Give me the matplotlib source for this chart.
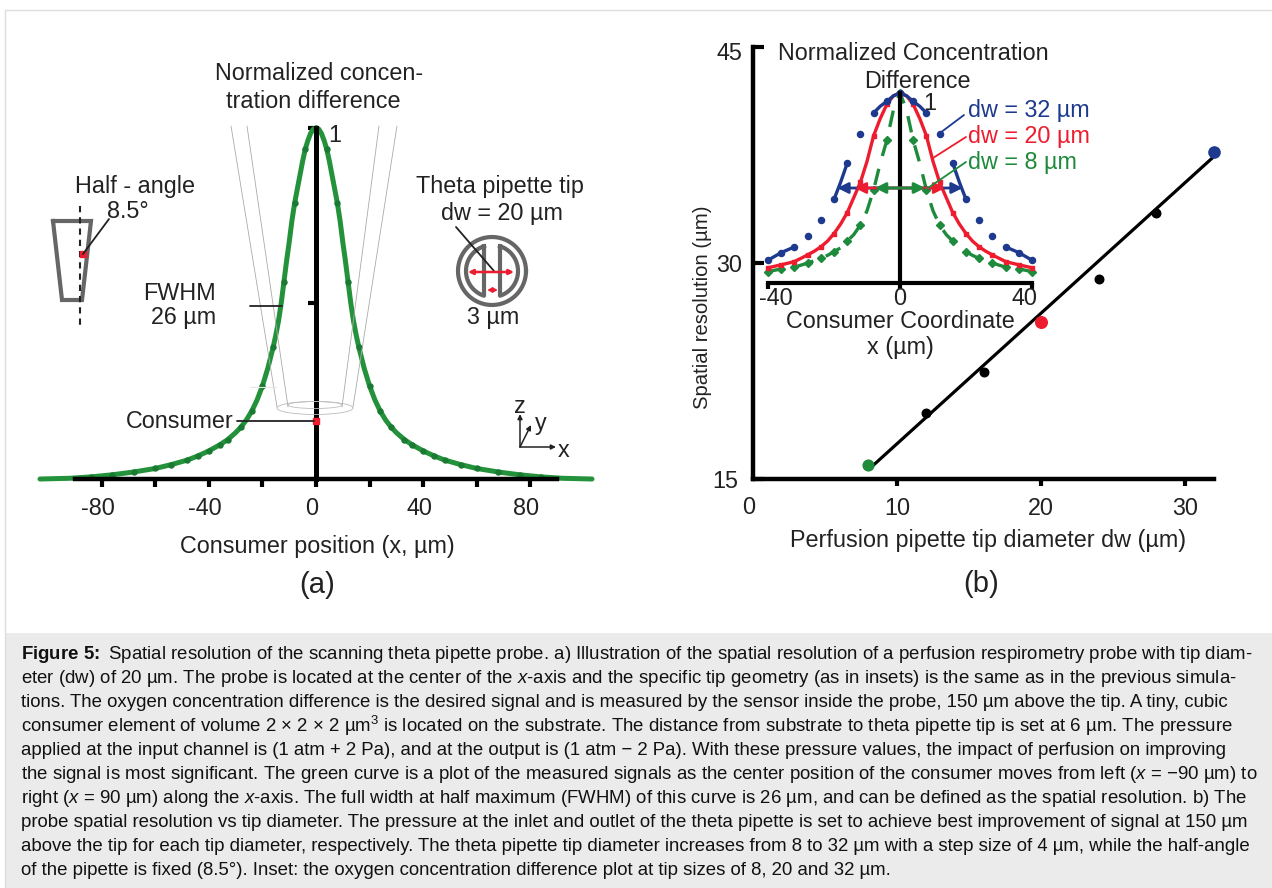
import numpy as np
import matplotlib
matplotlib.use("Agg")
import matplotlib.pyplot as plt
from matplotlib.patches import Ellipse, Rectangle
from matplotlib.transforms import ScaledTranslation

plt.rcParams["font.family"] = ["Liberation Sans", "DejaVu Sans"]
plt.rcParams["mathtext.fontset"] = "custom"
plt.rcParams["mathtext.rm"] = "Liberation Sans"
plt.rcParams["mathtext.it"] = "Liberation Sans:italic"
plt.rcParams["mathtext.bf"] = "Liberation Sans:bold"

W, H = 1272, 888

# panel (a): green curve (right half, it is symmetric)
pos_right = [0, 1, 2, 3, 4, 5, 6, 7, 8, 9, 10, 11, 12, 13, 14, 15, 16, 18, 20, 22, 24, 26, 28, 30,
             33, 36, 40, 44, 48, 54, 60, 68, 76, 84, 92, 103]
conc_right = [1.0, 0.997, 0.985, 0.965, 0.94, 0.905, 0.865, 0.825, 0.785, 0.735, 0.675, 0.62, 0.56, 0.5, 0.45, 0.41,
              0.375, 0.315, 0.265, 0.225, 0.193, 0.168, 0.148, 0.132, 0.112, 0.097, 0.08, 0.066, 0.054, 0.041, 0.03,
              0.02, 0.012, 0.006, 0.002, 0.0]
dots_right = [4, 8, 12, 16, 20, 24, 28, 33, 36, 40, 44, 48, 54, 60, 68, 76, 84]

# panel (b): resolution vs tip diameter
tip_d = [8, 12, 16, 20, 24, 28, 32]
resolution = [16.0, 19.6, 22.4, 25.9, 28.9, 33.5, 37.7]
fit_x = [8.4, 32]
fit_y = [16.0, 37.4]

# inset: normalized difference per tip size (right half, 0 to 40 step 2)
x_right = [0, 2, 4, 6, 8, 10, 12, 14, 16, 18, 20, 22, 24, 26, 28, 30, 32, 34, 36, 38, 40]
dw32_right = [1.0, 0.985, 0.956, 0.93, 0.895, 0.845, 0.786, 0.71, 0.63, 0.53, 0.44, 0.38, 0.33, 0.285, 0.245,
              0.215, 0.19, 0.175, 0.16, 0.14, 0.12]
dw20_right = [1.0, 0.985, 0.94, 0.865, 0.775, 0.64, 0.53, 0.45, 0.37, 0.31, 0.26, 0.22, 0.19, 0.167, 0.148,
              0.13, 0.113, 0.104, 0.096, 0.088, 0.08]
dw8_right = [1.0, 0.91, 0.75, 0.63, 0.49, 0.38, 0.305, 0.255, 0.22, 0.185, 0.165, 0.145, 0.13, 0.117, 0.105,
             0.094, 0.084, 0.079, 0.074, 0.067, 0.06]
half_widths = [19, 13.7, 7.6]

BLUE = "#1d3a8f"
RED = "#ed1c2e"
GREEN = "#1e8a3c"
LEAF = "#23923a"
GRAY = "#666666"

caption = [
    r"$\mathbf{Figure\ 5\!:}$ Spatial resolution of the scanning theta pipette probe. a) Illustration of the spatial resolution of a perfusion respirometry probe with tip diam-",
    r"eter (dw) of 20 µm. The probe is located at the center of the $\mathit{x}$-axis and the specific tip geometry (as in insets) is the same as in the previous simula-",
    r"tions. The oxygen concentration difference is the desired signal and is measured by the sensor inside the probe, 150 µm above the tip. A tiny, cubic",
    r"consumer element of volume 2 × 2 × 2 µm$^{3}$ is located on the substrate. The distance from substrate to theta pipette tip is set at 6 µm. The pressure",
    r"applied at the input channel is (1 atm + 2 Pa), and at the output is (1 atm − 2 Pa). With these pressure values, the impact of perfusion on improving",
    r"the signal is most significant. The green curve is a plot of the measured signals as the center position of the consumer moves from left ($\mathit{x}$ = −90 µm) to",
    r"right ($\mathit{x}$ = 90 µm) along the $\mathit{x}$-axis. The full width at half maximum (FWHM) of this curve is 26 µm, and can be defined as the spatial resolution. b) The",
    r"probe spatial resolution vs tip diameter. The pressure at the inlet and outlet of the theta pipette is set to achieve best improvement of signal at 150 µm",
    r"above the tip for each tip diameter, respectively. The theta pipette tip diameter increases from 8 to 32 µm with a step size of 4 µm, while the half-angle",
    r"of the pipette is fixed (8.5°). Inset: the oxygen concentration difference plot at tip sizes of 8, 20 and 32 µm.",
]


def mirror(vals, negate=False):
    left = [-v for v in vals[:0:-1]] if negate else list(vals[:0:-1])
    return left + list(vals)


def px_axes(fig, left, top, right, bottom, **kw):
    return fig.add_axes([left / W, 1 - bottom / H, (right - left) / W, (bottom - top) / H], **kw)


def spine_setup(ax):
    for side in ["top", "right"]:
        ax.spines[side].set_visible(False)
    ax.patch.set_alpha(0)


def nudge(tick_label, dx, dy):
    tick_label.set_transform(tick_label.get_transform() + ScaledTranslation(dx / 100, -dy / 100, fig.dpi_scale_trans))


fig = plt.figure(figsize=(W / 100, H / 100), dpi=100, facecolor="white")

# backdrop, frame and caption
bg = fig.add_axes([0, 0, 1, 1], zorder=0)
bg.set_xlim(0, W)
bg.set_ylim(H, 0)
bg.axis("off")
bg.plot([5, 5, W], [H, 10, 10], color="#dddddd", lw=1)
bg.add_patch(Rectangle((6, 633), W - 6, H - 633, color="#ebebeb", lw=0))
for i, line in enumerate(caption):
    bg.text(21, 654 + 24 * i, line, fontsize=13.45, color="#111111", va="center", ha="left")

# panel (a)
ax = px_axes(fig, 40, 128, 592, 479, zorder=2)
spine_setup(ax)
ax.set_xlim(-103, 103)
ax.set_ylim(0, 1)
ax.spines["left"].set_position(("data", 0))
ax.spines["left"].set_linewidth(3.6)
ax.spines["bottom"].set_linewidth(3.2)
ax.spines["bottom"].set_bounds(-90, 90)
ax.set_xticks(np.arange(-80, 81, 20))
ax.set_xticklabels(["-80", "", "-40", "", "0", "", "40", "", "80"], fontsize=16.8, color="#222222")
ax.tick_params(axis="x", length=6, width=3, pad=7)
for tl in ax.get_xticklabels():
    nudge(tl, -4, 0)
ax.set_yticks([0.5, 1])
ax.set_yticklabels([])
ax.tick_params(axis="y", length=6, width=3)
ax.plot(mirror(pos_right, True), mirror(conc_right), color=LEAF, lw=3.6, clip_on=False, solid_capstyle="round")
dots_x = sorted(set(dots_right) | {-d for d in dots_right} | {0})
dots_y = [conc_right[pos_right.index(abs(d))] for d in dots_x]
ax.plot(dots_x, dots_y, "o", color="#1a7a33", ms=3.6, clip_on=False)
ax.plot([0], [0.165], "s", color=RED, ms=4.5, zorder=5)

# panel (b)
bx = px_axes(fig, 753, 47, 1214, 479, zorder=2)
spine_setup(bx)
bx.set_xlim(0, 32)
bx.set_ylim(15, 45)
bx.spines["left"].set_linewidth(3.2)
bx.spines["bottom"].set_linewidth(3.2)
bx.set_xticks([10, 20, 30])
bx.set_xticklabels(["10", "20", "30"], fontsize=16.8, color="#222222")
bx.set_yticks([15, 30, 45])
bx.set_yticklabels(["15", "30", "45"], fontsize=16.8, color="#222222")
bx.tick_params(axis="x", direction="out", length=5, width=3, pad=8)
bx.tick_params(axis="y", direction="in", length=8, width=3, pad=8)
ylabels = bx.get_yticklabels()
nudge(ylabels[0], -4, 0)
nudge(ylabels[2], 0, 4)
bx.plot(fit_x, fit_y, color="black", lw=2.3)
bx.scatter(tip_d[1:-1], resolution[1:-1], s=38, color="black", zorder=3)
bx.scatter(tip_d[0], resolution[0], s=60, color=GREEN, zorder=4, clip_on=False)
bx.scatter(tip_d[3], resolution[3], s=70, color=RED, zorder=4)
bx.scatter(tip_d[-1], resolution[-1], s=65, color=BLUE, zorder=4, clip_on=False)

# inset of panel (b)
ix = px_axes(fig, 768, 93, 1032, 283, zorder=3)
spine_setup(ix)
ix.set_xlim(-40, 40)
ix.set_ylim(0, 1)
ix.spines["left"].set_position(("data", 0))
ix.spines["left"].set_linewidth(3)
ix.spines["bottom"].set_linewidth(3)
ix.set_xticks([-40, 0, 40])
ix.set_xticklabels([])
ix.tick_params(axis="x", length=4, width=3)
ix.set_yticks([])
x_inset = mirror(x_right, True)
dw32 = mirror(dw32_right)
dw20 = mirror(dw20_right)
dw8 = mirror(dw8_right)
ix.plot(x_inset, dw8, color=GREEN, lw=2.4, ls=(0, (5, 4)), clip_on=False)
ix.plot(x_inset[::2], dw8[::2], "D", color=GREEN, ms=3.6, clip_on=False)
ix.plot(x_inset, dw20, color=RED, lw=2.4, clip_on=False)
ix.plot(x_inset[::2], dw20[::2], "s", color=RED, ms=3.2, clip_on=False)
ix.plot(x_inset[::2], dw32[::2], "o", color=BLUE, ms=4.4, clip_on=False)
for a, b in [(0, 5), (10, 13), (16, 25), (28, 31), (36, 41)]:
    ix.plot(x_inset[a:b], dw32[a:b], color=BLUE, lw=2.4, clip_on=False)
for col, hw in zip([BLUE, RED, GREEN], half_widths):
    ix.annotate("", xy=(-hw, 0.5), xytext=(hw, 0.5),
                arrowprops=dict(arrowstyle="<|-|>", color=col, lw=2, shrinkA=0, shrinkB=0, mutation_scale=16))

# overlay in pixel coordinates: drawings, labels and leaders
ov = fig.add_axes([0, 0, 1, 1], zorder=5)
ov.set_xlim(0, W)
ov.set_ylim(H, 0)
ov.axis("off")
ov.patch.set_alpha(0)


def label(x, y, s, size=16.8, color="#222222", ha="center", **kw):
    ov.text(x, y + 1, s, fontsize=size, color=color, ha=ha, va="center", **kw)


def leader(x0, y0, x1, y1, color="#222222", lw=1.3):
    ov.plot([x0, x1], [y0, y1], color=color, lw=lw, solid_capstyle="round")


# faint pipette outline
for x0, x1 in [(231, 277), (247, 288), (397, 353), (379, 342)]:
    leader(x0, 126, x1, 407, color="#aaaaaa", lw=0.6)
ov.add_patch(Ellipse((315, 408), 76, 13, fill=False, ec="#bbbbbb", lw=0.6))
ov.add_patch(Ellipse((315, 405), 54, 7, fill=False, ec="#bbbbbb", lw=0.6))
leader(250, 387, 276, 387, color="#e5e5e5", lw=0.8)

label(319, 73, "Normalized concen-")
label(313, 100, "tration difference")
label(335, 134, "1")
label(216, 292, "FWHM", ha="right")
label(216, 316, "26 µm", ha="right")
leader(250, 306, 282, 306)
label(126, 420, "Consumer", ha="left")
leader(237, 421, 314, 421)
label(317, 545, "Consumer position (x, µm)")
label(317, 584, "(a)", size=21)

# half-angle sketch
ov.plot([53, 91, 82, 62, 53], [221, 221, 300, 300, 221], color=GRAY, lw=3, solid_joinstyle="miter")
ov.plot([80, 80], [206, 326], color="#222222", lw=1.5, ls=(0, (3, 2.4)))
ov.plot([83], [254], "s", color=RED, ms=4)
leader(83, 254, 109, 219)
label(135, 186, "Half - angle")
label(128, 210, "8.5°")

# theta tip sketch
theta = np.linspace(0, 2 * np.pi, 200)
ov.plot(492 + 34 * np.cos(theta), 271 + 34 * np.sin(theta), color=GRAY, lw=3)
arc = np.linspace(-np.arccos(8 / 26), np.arccos(8 / 26), 80)
arc_x = 26 * np.cos(arc)
arc_y = 26 * np.sin(arc)
ov.plot(492 + np.r_[arc_x, arc_x[0]], 271 + np.r_[arc_y, arc_y[0]], color=GRAY, lw=3)
ov.plot(492 - np.r_[arc_x, arc_x[0]], 271 + np.r_[arc_y, arc_y[0]], color=GRAY, lw=3)
leader(456, 227, 494, 271)
ov.annotate("", xy=(468, 272), xytext=(514, 272), arrowprops=dict(arrowstyle="<|-|>", color=RED, lw=1.8, shrinkA=0, shrinkB=0, mutation_scale=7))
ov.annotate("", xy=(487, 290), xytext=(498, 290), arrowprops=dict(arrowstyle="<|-|>", color=RED, lw=1.5, shrinkA=0, shrinkB=0, mutation_scale=6))
label(500, 185, "Theta pipette tip")
label(502, 212, "dw = 20 µm")
label(493, 316, "3 µm")

# xyz triad
for tx, ty in [(520, 414), (531, 425), (556, 447)]:
    ov.annotate("", xy=(tx, ty), xytext=(520, 447), arrowprops=dict(arrowstyle="-|>", color="#222222", lw=1.1, shrinkA=0, shrinkB=0, mutation_scale=7))
label(520, 405, "z")
label(541, 422, "y")
label(564, 449, "x")

# panel (b) text
label(702, 306, "Spatial resolution (µm)", size=14.6, rotation=90)
label(749, 506, "0")
label(988, 539, "Perfusion pipette tip diameter dw (µm)")
label(981, 583, "(b)", size=21)
label(913, 52, "Normalized Concentration")
label(917, 80, "Difference")
label(930, 103, "1")
label(968, 109, "dw = 32 µm", color=BLUE, ha="left")
label(968, 135, "dw = 20 µm", color=RED, ha="left")
label(968, 161, "dw = 8 µm", color=GREEN, ha="left")
leader(964, 115, 940, 133, color=BLUE)
leader(966, 137, 933, 158, color=RED)
leader(966, 162, 925, 190, color=GREEN)
label(776, 297, "-40")
label(900, 297, "0")
label(1024, 297, "40")
label(900, 320, "Consumer Coordinate")
label(900, 346, "x (µm)")

fig.savefig("out.png", dpi=100)
